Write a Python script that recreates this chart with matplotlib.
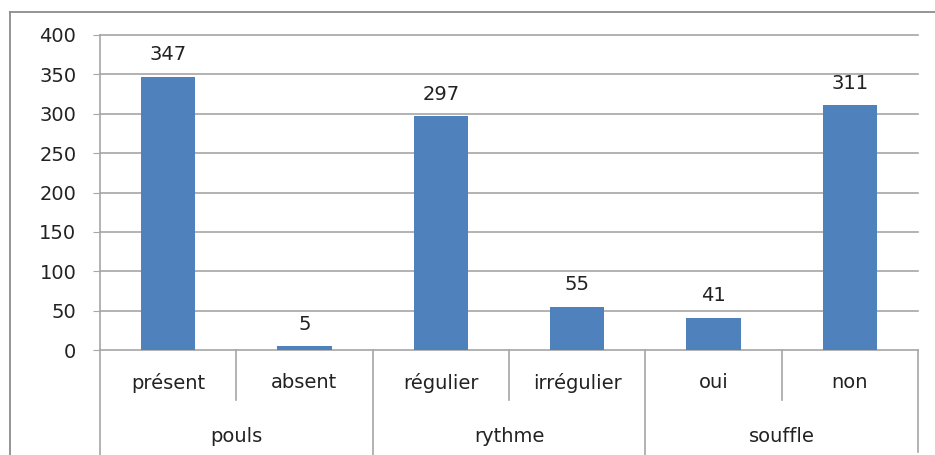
import matplotlib
matplotlib.use("Agg")
import matplotlib.pyplot as plt
from matplotlib.lines import Line2D
import matplotlib.transforms as mtransforms

subcategories = ["présent", "absent", "régulier", "irrégulier", "oui", "non"]
groups = ["pouls", "rythme", "souffle"]
group_sizes = [2, 2, 2]
values = [347, 5, 297, 55, 41, 311]
yticks = [0, 50, 100, 150, 200, 250, 300, 350, 400]

W, H = 935, 455
fig = plt.figure(figsize=(W / 100, H / 100), dpi=100)
fig.patch.set_facecolor("white")

def fy(py):
    return 1 - py / H

# outer chart border (top and left edges only; the rest is cropped)
fig.add_artist(Line2D([10 / W, 1.0], [fy(12), fy(12)], transform=fig.transFigure,
                      color="#8c8c8c", linewidth=1.3))
fig.add_artist(Line2D([10 / W, 10 / W], [fy(12), 0.0], transform=fig.transFigure,
                      color="#8c8c8c", linewidth=1.3))

left, right, top, bottom = 100, 918, 35, 350
ax = fig.add_axes([left / W, 1 - bottom / H, (right - left) / W, (bottom - top) / H])
ax.set_facecolor("none")

x = list(range(len(values)))
ax.bar(x, values, width=0.4, color="#4F81BD", zorder=3)
ax.set_xlim(-0.5, len(values) - 0.5)
ax.set_ylim(0, 400)
ax.set_yticks(yticks)
ax.set_yticklabels([str(t) for t in yticks], fontsize=14, color="#222222")
ax.tick_params(axis="y", length=5, color="#a6a6a6", pad=12)
ax.set_xticks([])
for y in yticks:
    ax.axhline(y, color="#a6a6a6", linewidth=1.2, zorder=1, clip_on=False)
for s in ["top", "right", "bottom"]:
    ax.spines[s].set_visible(False)
ax.spines["left"].set_color("#a6a6a6")
ax.spines["left"].set_linewidth(1.2)

for xi, v in zip(x, values):
    ax.annotate(str(v), (xi, v), xytext=(0, 9), textcoords="offset points",
                ha="center", va="bottom", fontsize=14, color="#222222")

# two-level category axis below the plot
trans = mtransforms.blended_transform_factory(ax.transData, fig.transFigure)

bounds = [-0.5]
acc = -0.5
for g in group_sizes:
    acc += g
    bounds.append(acc)
for i in range(len(values) + 1):
    xb = i - 0.5
    if xb in bounds:
        y_end = fy(455) if xb < len(values) - 0.6 else fy(452)
    else:
        y_end = fy(400)
    fig.add_artist(Line2D([xb, xb], [fy(bottom), y_end], transform=trans,
                          color="#a6a6a6", linewidth=1.2))

for xi, lab in zip(x, subcategories):
    fig.text(xi, fy(383), lab, transform=trans, ha="center", va="center",
             fontsize=14, color="#222222")
start = 0
for g, n in zip(groups, group_sizes):
    cx = start + (n - 1) / 2
    fig.text(cx, fy(436), g, transform=trans, ha="center", va="center",
             fontsize=14, color="#222222")
    start += n

fig.savefig("out.png", dpi=100, facecolor="white")
